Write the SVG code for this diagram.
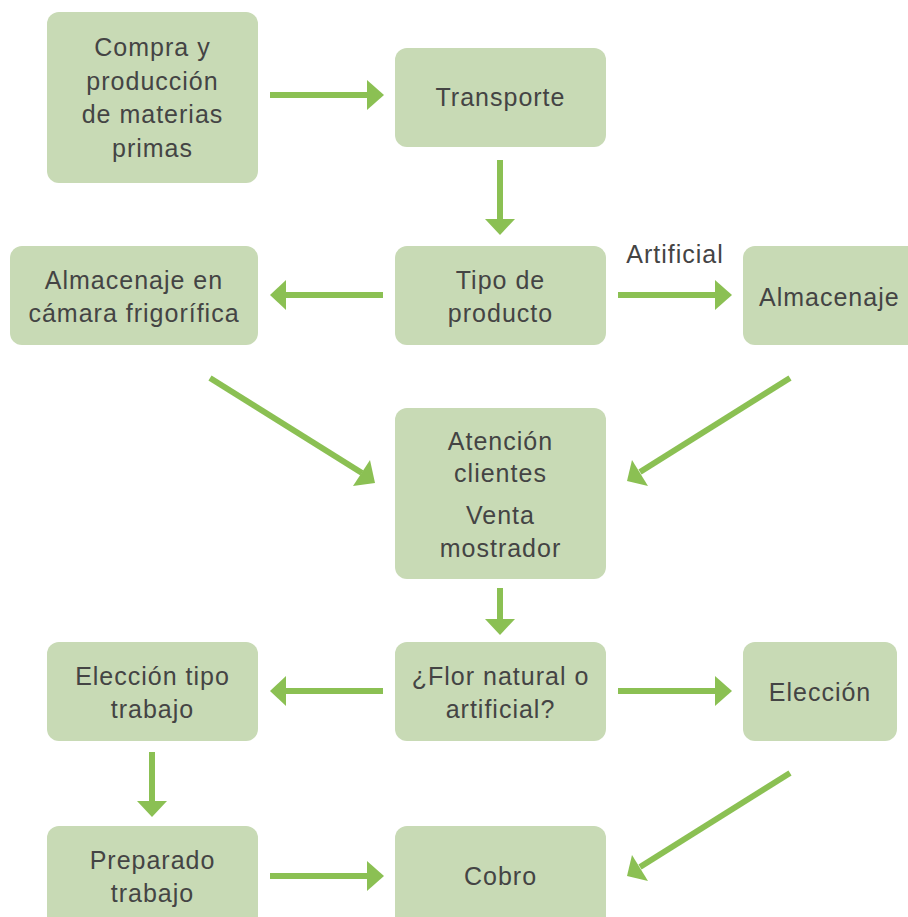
<svg xmlns="http://www.w3.org/2000/svg" width="908" height="917" viewBox="0 0 908 917">
<style>
.box{fill:#c8dab5}
.t{font-family:"Liberation Sans",Arial,sans-serif;font-size:25px;letter-spacing:1px;fill:#444;text-anchor:middle}
.ln{stroke:#8bc053;stroke-width:6;fill:none}
.hd{fill:#8bc053}
</style>
<rect width="908" height="917" fill="#fff"/>
<g id="connectors">
<line class="ln" x1="270" y1="95" x2="368" y2="95"/><polygon class="hd" points="367,80 384,95 367,110"/>
<line class="ln" x1="500" y1="160" x2="500" y2="220"/><polygon class="hd" points="485,219 500,235 515,219"/>
<line class="ln" x1="383" y1="295" x2="285" y2="295"/><polygon class="hd" points="286,280 270,295 286,310"/>
<line class="ln" x1="618" y1="295" x2="716" y2="295"/><polygon class="hd" points="715,280 732,295 715,310"/>
<line class="ln" x1="210" y1="378" x2="362" y2="473"/><polygon class="hd" points="353,486 375,483 370,460"/>
<line class="ln" x1="790" y1="378" x2="640" y2="472"/><polygon class="hd" points="632,460 627,481 648,486"/>
<line class="ln" x1="500" y1="588" x2="500" y2="620"/><polygon class="hd" points="485,619 500,635 515,619"/>
<line class="ln" x1="383" y1="691" x2="285" y2="691"/><polygon class="hd" points="286,676 270,691 286,706"/>
<line class="ln" x1="618" y1="691" x2="716" y2="691"/><polygon class="hd" points="715,676 732,691 715,706"/>
<line class="ln" x1="152" y1="752" x2="152" y2="802"/><polygon class="hd" points="137,801 152,817 167,801"/>
<line class="ln" x1="270" y1="876" x2="368" y2="876"/><polygon class="hd" points="367,861 384,876 367,891"/>
<line class="ln" x1="790" y1="773" x2="640" y2="867"/><polygon class="hd" points="632,855 627,876 648,881"/>
<text class="t" x="675" y="263">Artificial</text>
</g>
<g id="compra"><rect class="box" x="47" y="12" width="211" height="171" rx="12"/>
<text class="t" x="152.5" y="56">Compra y</text><text class="t" x="152.5" y="90">producción</text><text class="t" x="152.5" y="123">de materias</text><text class="t" x="152.5" y="157">primas</text></g>
<g id="transporte"><rect class="box" x="395" y="48" width="211" height="99" rx="12"/>
<text class="t" x="500.5" y="106">Transporte</text></g>
<g id="tipo"><rect class="box" x="395" y="246" width="211" height="99" rx="12"/>
<text class="t" x="500.5" y="289">Tipo de</text><text class="t" x="500.5" y="322">producto</text></g>
<g id="camara"><rect class="box" x="10" y="246" width="248" height="99" rx="12"/>
<text class="t" x="134" y="289">Almacenaje en</text><text class="t" x="134" y="322">cámara frigorífica</text></g>
<g id="almacenaje"><rect class="box" x="743" y="246" width="180" height="99" rx="12"/>
<text class="t" x="759" y="306" style="text-anchor:start">Almacenaje</text></g>
<g id="atencion"><rect class="box" x="395" y="408" width="211" height="171" rx="12"/>
<text class="t" x="500.5" y="450">Atención</text><text class="t" x="500.5" y="482">clientes</text><text class="t" x="500.5" y="524">Venta</text><text class="t" x="500.5" y="557">mostrador</text></g>
<g id="flor"><rect class="box" x="395" y="642" width="211" height="99" rx="12"/>
<text class="t" x="500.5" y="685">¿Flor natural o</text><text class="t" x="500.5" y="718">artificial?</text></g>
<g id="eleccion-tipo"><rect class="box" x="47" y="642" width="211" height="99" rx="12"/>
<text class="t" x="152.5" y="685">Elección tipo</text><text class="t" x="152.5" y="718">trabajo</text></g>
<g id="eleccion"><rect class="box" x="743" y="642" width="154" height="99" rx="12"/>
<text class="t" x="820" y="701">Elección</text></g>
<g id="preparado"><rect class="box" x="47" y="826" width="211" height="110" rx="12"/>
<text class="t" x="152.5" y="869">Preparado</text><text class="t" x="152.5" y="902">trabajo</text></g>
<g id="cobro"><rect class="box" x="395" y="826" width="211" height="110" rx="12"/>
<text class="t" x="500.5" y="885">Cobro</text></g>
</svg>
